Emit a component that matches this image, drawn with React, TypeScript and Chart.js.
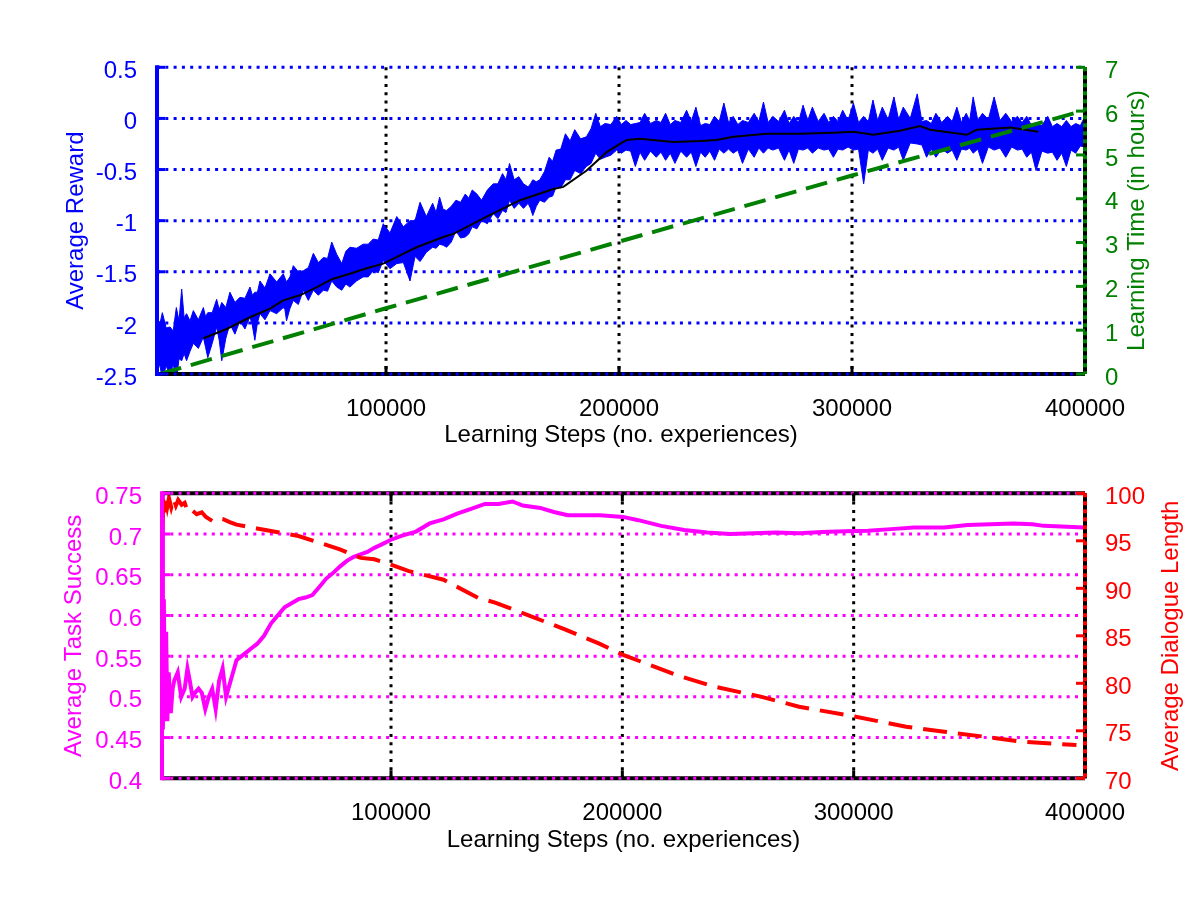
import { useEffect, useRef } from "react";
import { Chart, registerables } from "chart.js";

Chart.register(...registerables);

// MATLAB-style double panel: reward/learning time (top), task success/dialogue length (bottom)
const FONT = "'Liberation Sans', Arial, Helvetica, sans-serif";
const BLUE = "#0000ff";
const GREEN = "#008000";
const MAGENTA = "#ff00ff";
const RED = "#ff0000";

// ---- shared axis ticks ----
const stepTicks = [100000, 200000, 300000, 400000];

// ---- top panel ----
const rewardTicks = [-2.5, -2, -1.5, -1, -0.5, 0, 0.5];
const hourTicks = [0, 1, 2, 3, 4, 5, 6, 7];

// spikes of the noisy per-episode reward
const rewardSteps = [
  1700, 4000, 7300, 10000, 12300, 14400, 17300, 21600, 23500, 27300, 29500, 33000, 37300, 41600, 43700,
  45900, 50200, 55900, 57300, 60200, 64500, 68800, 73100, 76700, 81000, 84500, 90200, 94500, 98800,
  104600, 110300, 114600, 120000, 123000, 126000, 130000, 134000, 137000, 141000, 146000, 150000, 153000,
  157000, 161000, 163000, 166000, 170000, 173000, 177000, 181000, 186000, 190000, 194000, 199000, 203000,
  207000, 211000, 216000, 220000, 224000, 229000, 233000, 237000, 241000, 245000, 249000, 253000, 258000,
  262000, 266000, 271000, 275000, 279000, 283000, 288000, 292000, 296000, 300600, 305000, 309000, 313000,
  318000, 322000, 328000, 332000, 336000, 341000, 345000, 349000, 352000, 356000, 361000, 366000, 371000,
  375000, 379000, 384000, 388000, 392000, 396000, 400000,
];
const rewardUpper = [
  -1.98, -1.9, -2.04, -1.85, -1.67, -1.91, -1.88, -1.85, -1.9, -1.77, -1.8, -1.7, -1.75, -1.65, -1.7,
  -1.59, -1.52, -1.52, -1.6, -1.44, -1.49, -1.32, -1.36, -1.21, -1.42, -1.26, -1.23, -1.18, -1.03,
  -0.96, -1.0, -0.82, -0.83, -0.77, -0.9, -0.8, -0.74, -0.7, -0.8, -0.64, -0.54, -0.44,
  -0.57, -0.67, -0.6, -0.6, -0.38, -0.31, -0.15, -0.11, -0.18, 0.05, -0.05, 0.02, -0.02,
  -0.05, 0.05, -0.02, 0.05, -0.02, 0.08, 0.11, -0.05, 0.02, 0.15, 0.02, -0.02, 0.05,
  0.16, 0.02, 0.08, 0.02, 0.13, 0.11, 0.05, 0.02, 0.08, 0.15, 0.02, 0.18, 0.11,
  0.21, 0.11, 0.24, -0.02, 0.05, 0.02, 0.11, 0.05, 0.21, 0.05, 0.21, 0.05, 0.02,
  0.02, -0.05, 0.02, -0.05, -0.02, -0.05, 0.02,
];
const rewardLower = [
  -2.5, -2.55, -2.52, -2.57, -2.37, -2.37, -2.2, -2.14, -2.34, -2.04, -2.37, -2.01, -1.98, -1.94, -2.17,
  -1.91, -1.88, -1.85, -1.98, -1.78, -1.68, -1.68, -1.68, -1.59, -1.68, -1.65, -1.55, -1.49, -1.39,
  -1.42, -1.59, -1.4, -1.26, -1.23, -1.26, -1.1, -1.16, -1.06, -1.0, -0.93, -0.9, -0.8,
  -0.83, -0.83, -0.95, -0.8, -0.77, -0.67, -0.6, -0.51, -0.47, -0.34, -0.38, -0.31, -0.31,
  -0.47, -0.41, -0.38, -0.41, -0.44, -0.38, -0.47, -0.38, -0.41, -0.34, -0.34, -0.44, -0.38,
  -0.34, -0.31, -0.41, -0.44, -0.31, -0.34, -0.31, -0.38, -0.31, -0.31, -0.64, -0.34, -0.41,
  -0.31, -0.41, -0.25, -0.38, -0.38, -0.34, -0.41, -0.31, -0.34, -0.44, -0.31, -0.38, -0.31,
  -0.38, -0.51, -0.34, -0.41, -0.47, -0.34, -0.28,
];

// notches between the spikes (edges of the solid core of the band)
const notchSteps = [
  2850, 5650, 8650, 11150, 13350, 15850, 19450, 22550, 25400, 28400, 31250, 35150, 39450, 42650, 44800,
  48050, 53050, 56600, 58750, 62350, 66650, 70950, 74900, 78850, 82750, 87350, 92350, 96650, 101700,
  107450, 112450, 117300, 121500, 124500, 128000, 132000, 135500, 139000, 143500, 148000, 151500, 155000,
  159000, 162000, 164500, 168000, 171500, 175000, 179000, 183500, 188000, 192000, 196500, 201000, 205000,
  209000, 213500, 218000, 222000, 226500, 231000, 235000, 239000, 243000, 247000, 251000, 255500, 260000,
  264000, 268500, 273000, 277000, 281000, 285500, 290000, 294000, 298300, 302800, 307000, 311000, 315500,
  320000, 325000, 330000, 334000, 338500, 343000, 347000, 350500, 354000, 358500, 363500, 368500, 373000,
  377000, 381500, 386000, 390000, 394000, 398000,
];
const upperNotch = [
  -2.02, -2.05, -2.08, -1.98, -1.95, -1.98, -1.97, -1.94, -1.9, -1.87, -1.85, -1.8, -1.76, -1.73, -1.7,
  -1.66, -1.6, -1.56, -1.55, -1.5, -1.46, -1.41, -1.37, -1.33, -1.3, -1.27, -1.23, -1.19, -1.12,
  -1.06, -1.0, -0.96, -0.92, -0.89, -0.86, -0.82, -0.78, -0.74, -0.7, -0.64, -0.6, -0.6,
  -0.64, -0.64, -0.62, -0.52, -0.42, -0.3, -0.22, -0.2, -0.1, -0.08, -0.06, -0.06, -0.06,
  -0.04, -0.05, -0.04, -0.06, -0.04, -0.03, -0.07, -0.06, -0.03, -0.04, -0.06, -0.04, -0.03,
  -0.04, -0.03, -0.05, -0.04, -0.02, -0.03, -0.04, -0.03, -0.02, -0.04, -0.03, -0.02, -0.01,
  -0.01, 0.0, -0.03, -0.05, -0.04, -0.03, -0.04, -0.02, -0.02, -0.01, -0.02, -0.03, -0.04,
  -0.07, -0.07, -0.08, -0.08, -0.08, -0.07,
];
const lowerNotch = [
  -2.4, -2.42, -2.4, -2.35, -2.3, -2.28, -2.25, -2.24, -2.2, -2.17, -2.15, -2.11, -2.06, -2.03, -2.0,
  -1.97, -1.91, -1.87, -1.86, -1.82, -1.78, -1.73, -1.69, -1.65, -1.62, -1.59, -1.55, -1.51, -1.47,
  -1.41, -1.35, -1.31, -1.27, -1.24, -1.21, -1.17, -1.13, -1.08, -1.03, -0.98, -0.92, -0.88,
  -0.88, -0.88, -0.86, -0.82, -0.76, -0.68, -0.6, -0.54, -0.44, -0.4, -0.36, -0.34, -0.32,
  -0.33, -0.32, -0.33, -0.34, -0.32, -0.33, -0.33, -0.32, -0.3, -0.3, -0.31, -0.3, -0.29,
  -0.29, -0.29, -0.31, -0.3, -0.29, -0.29, -0.3, -0.3, -0.28, -0.3, -0.31, -0.3, -0.29,
  -0.28, -0.24, -0.26, -0.3, -0.3, -0.31, -0.3, -0.29, -0.3, -0.28, -0.29, -0.28, -0.3,
  -0.33, -0.32, -0.33, -0.34, -0.31, -0.27,
];

// running average (black line)
const avgSteps = [
  21600, 31600, 41600, 50200, 55900, 63000, 70300, 77000, 84500, 91000, 98800, 106000, 113100, 124600,
  128900, 143200, 157500, 171800, 176100, 186100, 194700, 200400, 203300, 209000, 223300, 234800, 241900,
  249100, 263400, 277700, 292000, 300600, 309200, 320600, 329200, 333500, 349300, 353500, 367900, 380000,
];
const avgReward = [
  -2.15, -2.06, -1.945, -1.86, -1.78, -1.73, -1.65, -1.57, -1.52, -1.47, -1.42, -1.34, -1.26, -1.16,
  -1.13, -0.96, -0.8, -0.69, -0.67, -0.51, -0.33, -0.25, -0.21, -0.2, -0.23, -0.22, -0.21,
  -0.18, -0.15, -0.15, -0.14, -0.13, -0.16, -0.12, -0.075, -0.11, -0.16, -0.11, -0.09, -0.13,
];

// learning time, right axis (green dashed)
const timeSteps = [3000, 100000, 200000, 300000, 400000];
const timeHours = [0, 1.5, 3.02, 4.53, 6.02];

// ---- bottom panel ----
const successTicks = [0.4, 0.45, 0.5, 0.55, 0.6, 0.65, 0.7, 0.75];
const lengthTicks = [70, 75, 80, 85, 90, 95, 100];

const successSteps = [
  1000, 1400, 1800, 2300, 2800, 3300, 3900, 4800, 5600, 6300, 7800, 9300, 10800, 12000, 13000, 14200,
  15300, 16800, 18200, 19700, 21200, 22700, 24200, 25700, 27200, 28700, 30200, 31700, 33200, 35400, 37600,
  39800, 42100, 45100, 48100, 51000, 54000, 57000, 60000, 63000, 66000, 69000, 71900, 74900, 77900, 80900,
  83900, 86800, 89800, 92800, 95800, 100000, 104800, 110800, 116700, 122700, 128600, 134600, 140600,
  146500, 152500, 157000, 164500, 170400, 176400, 182300, 190400, 200300, 206900, 216800, 226700, 236700,
  246600, 256500, 266400, 276400, 286300, 296200, 306200, 316100, 326000, 339200, 349200, 359100, 369000,
  377300, 382200, 392200, 399600,
];
const successRate = [
  0.75, 0.46, 0.62, 0.47, 0.58, 0.47, 0.53, 0.48, 0.51, 0.52, 0.53, 0.5, 0.51, 0.535, 0.52, 0.5,
  0.505, 0.51, 0.505, 0.485, 0.5, 0.51, 0.485, 0.52, 0.535, 0.5, 0.515, 0.53, 0.545, 0.55, 0.555,
  0.56, 0.565, 0.575, 0.59, 0.6, 0.61, 0.615, 0.62, 0.622, 0.625, 0.635, 0.645, 0.652, 0.66, 0.667,
  0.672, 0.675, 0.678, 0.683, 0.687, 0.693, 0.698, 0.703, 0.713, 0.718, 0.725, 0.731, 0.737,
  0.737, 0.74, 0.735, 0.732, 0.727, 0.723, 0.723, 0.723, 0.721, 0.717, 0.71, 0.705, 0.702,
  0.7, 0.701, 0.702, 0.701, 0.7025, 0.7035, 0.704, 0.706, 0.708, 0.708, 0.711, 0.712, 0.713,
  0.712, 0.71, 0.709, 0.708,
];

const lengthSteps = [
  1000, 1500, 2000, 2500, 3300, 4000, 5000, 6000, 7000, 8000, 9500, 10800, 12200, 14000, 16000, 18200,
  20000, 22700, 25000, 27200, 30000, 33200, 42100, 51100, 60000, 69000, 77900, 86900, 92800, 100000,
  107700, 122700, 137600, 145000, 160000, 174900, 189800, 200300, 223400, 239900, 259800, 276400, 300400,
  322700, 339200, 355800, 372300, 396300,
];
const dialogueLength = [
  96, 99.5, 98, 99.7, 98.6, 99.5, 98.5, 99.4, 98.7, 99.3, 98.8, 99, 98, 98.2, 97.8, 98,
  97.5, 97.1, 97.4, 97.3, 97, 96.7, 96.3, 95.9, 95.5, 94.8, 94.1, 93.2, 93.05, 92.5,
  91.8, 90.9, 89.0, 88.5, 87.1, 85.7, 84.2, 83.0, 80.87, 79.64, 78.6, 77.54, 76.5,
  75.43, 74.9, 74.4, 73.85, 73.5,
];

const pts = (xs: number[], ys: number[]) => xs.map((x, i) => ({ x, y: ys[i] }));
// spikes and notches merged into one edge, ordered by step
const edge = (xs: number[], ys: number[], nx: number[], ny: number[]) =>
  [...pts(xs, ys), ...pts(nx, ny)].sort((a, b) => a.x - b.x);
const fixTicks = (values: number[]) => (s: any) => {
  s.ticks = values.map((value) => ({ value }));
};

// grid, box and the coloured right axis, drawn the MATLAB way
interface FrameOpts {
  left: string;
  right: string;
  boxTop: boolean;
  rightTitle: string;
  rightTitleX: number;
}

function framePlugin(o: FrameOpts) {
  const seg = (ctx: CanvasRenderingContext2D, x1: number, y1: number, x2: number, y2: number) => {
    ctx.beginPath();
    ctx.moveTo(x1, y1);
    ctx.lineTo(x2, y2);
    ctx.stroke();
  };
  return {
    id: "matlabFrame",
    beforeDatasetsDraw(chart: any) {
      const { ctx, chartArea: a } = chart;
      const x = chart.scales.x;
      const y = chart.scales.y;
      ctx.save();
      ctx.lineWidth = 3;
      ctx.setLineDash([3, 5.3]);
      ctx.strokeStyle = "#000";
      x.ticks.forEach((t: any) => {
        const px = x.getPixelForValue(t.value);
        if (px < a.right - 3) seg(ctx, px, a.top, px, a.bottom);
      });
      ctx.strokeStyle = o.left;
      y.ticks.forEach((t: any) => {
        const py = y.getPixelForValue(t.value);
        seg(ctx, a.left, py, a.right, py);
      });
      ctx.restore();
    },
    afterDatasetsDraw(chart: any) {
      const { ctx, chartArea: a } = chart;
      const x = chart.scales.x;
      const y = chart.scales.y;
      const y2 = chart.scales.y2;
      ctx.save();
      ctx.lineCap = "butt";

      // bottom (and top) edge: black with dotted grid colour on it
      const edges = o.boxTop ? [a.bottom, a.top] : [a.bottom];
      edges.forEach((ey: number) => {
        ctx.setLineDash([]);
        ctx.lineWidth = 4;
        ctx.strokeStyle = "#000";
        seg(ctx, a.left, ey, a.right, ey);
        ctx.setLineDash([3, 5.3]);
        ctx.lineWidth = 3;
        ctx.strokeStyle = o.left;
        seg(ctx, a.left, ey, a.right, ey);
      });

      // x ticks (inward)
      ctx.setLineDash([]);
      ctx.lineWidth = 3;
      ctx.strokeStyle = "#000";
      x.ticks.forEach((t: any) => {
        const px = x.getPixelForValue(t.value);
        seg(ctx, px, a.bottom, px, a.bottom - 8);
        if (o.boxTop) seg(ctx, px, a.top, px, a.top + 8);
      });

      // right axis
      ctx.lineWidth = 4;
      ctx.strokeStyle = "#000";
      seg(ctx, a.right, a.top, a.right, a.bottom);
      ctx.setLineDash([4, 4]);
      ctx.strokeStyle = o.right;
      seg(ctx, a.right, a.top, a.right, a.bottom);
      ctx.setLineDash([]);
      ctx.lineWidth = 3;
      y2.ticks.forEach((t: any) => {
        const py = y2.getPixelForValue(t.value);
        seg(ctx, a.right - 9, py, a.right, py);
      });

      // left axis
      ctx.lineWidth = 4;
      ctx.strokeStyle = o.left;
      seg(ctx, a.left, a.top - 2, a.left, a.bottom + 2);
      ctx.lineWidth = 3;
      y.ticks.forEach((t: any) => {
        const py = y.getPixelForValue(t.value);
        seg(ctx, a.left, py, a.left + 8, py);
      });

      // right axis title, reading bottom to top
      ctx.fillStyle = o.right;
      ctx.font = `24px ${FONT}`;
      ctx.textAlign = "center";
      ctx.textBaseline = "middle";
      ctx.translate(o.rightTitleX, (a.top + a.bottom) / 2);
      ctx.rotate(-Math.PI / 2);
      ctx.fillText(o.rightTitle, 0, 0);
      ctx.restore();
    },
  };
}

const xScale = (min: number, height: number, titleBottom: number) => ({
  type: "linear",
  min,
  max: 400000,
  grid: { display: false },
  border: { display: false },
  afterBuildTicks: fixTicks(stepTicks),
  afterFit: (s: any) => {
    s.height = height;
  },
  ticks: { color: "#000", padding: 12.6, maxRotation: 0, autoSkip: false, callback: (v: any) => String(v) },
  title: {
    display: true,
    text: "Learning Steps (no. experiences)",
    color: "#000",
    padding: { top: 0, bottom: titleBottom },
  },
});

const yScale = (
  position: string,
  min: number,
  max: number,
  ticks: number[],
  color: string,
  width: number,
  title?: { text: string; pad: number }
) => ({
  type: "linear",
  position,
  min,
  max,
  grid: { display: false },
  border: { display: false },
  afterBuildTicks: fixTicks(ticks),
  afterFit: (s: any) => {
    s.width = width;
  },
  ticks: { color, padding: 12, labelOffset: 4, autoSkip: false, callback: (v: any) => String(v) },
  title: title
    ? { display: true, text: title.text, color, padding: { top: title.pad, bottom: 0 } }
    : { display: false },
});

function topConfig(): any {
  return {
    type: "line",
    data: {
      datasets: [
        {
          label: "Learning Time",
          data: pts(timeSteps, timeHours),
          yAxisID: "y2",
          borderColor: GREEN,
          borderWidth: 4,
          borderDash: [22, 10],
          pointRadius: 0,
          fill: false,
          order: 0,
        },
        {
          label: "Average Reward (smoothed)",
          data: pts(avgSteps, avgReward),
          yAxisID: "y",
          borderColor: "#000",
          borderWidth: 2,
          pointRadius: 0,
          fill: false,
          order: 1,
        },
        {
          label: "Reward (upper edge)",
          data: edge(rewardSteps, rewardUpper, notchSteps, upperNotch),
          yAxisID: "y",
          borderColor: BLUE,
          backgroundColor: BLUE,
          borderWidth: 1,
          pointRadius: 0,
          fill: "+1",
          order: 2,
        },
        {
          label: "Reward (lower edge)",
          data: edge(rewardSteps, rewardLower, notchSteps, lowerNotch),
          yAxisID: "y",
          borderColor: BLUE,
          borderWidth: 1,
          pointRadius: 0,
          fill: false,
          order: 3,
        },
      ],
    },
    options: {
      animation: false,
      responsive: false,
      events: [],
      layout: { padding: { top: 67.3, left: 0, right: 0, bottom: 0 } },
      plugins: { legend: { display: false }, tooltip: { enabled: false } },
      scales: {
        x: xScale(1700, 76, 0),
        y: yScale("left", -2.5, 0.5, rewardTicks, BLUE, 157, { text: "Average Reward", pad: 62 }),
        y2: yScale("right", 0, 7, hourTicks, GREEN, 115),
      },
    },
    plugins: [
      framePlugin({ left: BLUE, right: GREEN, boxTop: false, rightTitle: "Learning Time (in hours)", rightTitleX: 1137 }),
    ],
  };
}

function bottomConfig(): any {
  return {
    type: "line",
    data: {
      datasets: [
        {
          label: "Average Dialogue Length",
          data: pts(lengthSteps, dialogueLength),
          yAxisID: "y2",
          borderColor: RED,
          borderWidth: 4,
          borderDash: [24, 11],
          pointRadius: 0,
          fill: false,
          order: 0,
        },
        {
          label: "Average Task Success",
          data: pts(successSteps, successRate),
          yAxisID: "y",
          borderColor: MAGENTA,
          borderWidth: 4,
          pointRadius: 0,
          fill: false,
          order: 1,
        },
      ],
    },
    options: {
      animation: false,
      responsive: false,
      events: [],
      layout: { padding: { top: 43.3, left: 0, right: 0, bottom: 0 } },
      plugins: { legend: { display: false }, tooltip: { enabled: false } },
      scales: {
        x: xScale(1000, 121.7, 45.6),
        y: yScale("left", 0.4, 0.75, successTicks, MAGENTA, 162, { text: "Average Task Success", pad: 59.6 }),
        y2: yScale("right", 70, 100, lengthTicks, RED, 115),
      },
    },
    plugins: [
      framePlugin({ left: MAGENTA, right: RED, boxTop: true, rightTitle: "Average Dialogue Length", rightTitleX: 1171 }),
    ],
  };
}

function Panel({ top, makeConfig }: { top: number; makeConfig: () => any }) {
  const ref = useRef<HTMLCanvasElement>(null);

  useEffect(() => {
    if (!ref.current) return;
    const chart = new Chart(ref.current, makeConfig());
    return () => chart.destroy();
  }, [makeConfig]);

  return (
    <canvas
      ref={ref}
      width={1200}
      height={450}
      style={{ position: "absolute", left: 0, top, width: 1200, height: 450 }}
    />
  );
}

Chart.defaults.font.family = FONT;
Chart.defaults.font.size = 24;

export default function App() {
  return (
    <div style={{ position: "absolute", left: 0, top: 0, width: 1200, height: 900, background: "#fff" }}>
      <Panel top={0} makeConfig={topConfig} />
      <Panel top={450} makeConfig={bottomConfig} />
    </div>
  );
}
